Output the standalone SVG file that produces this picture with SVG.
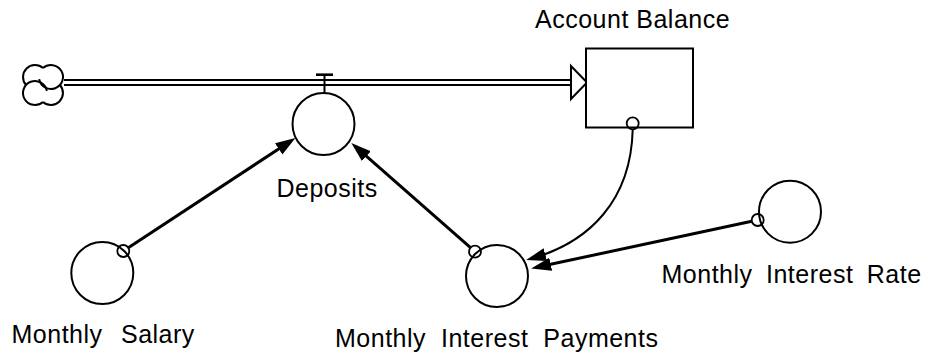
<svg xmlns="http://www.w3.org/2000/svg" width="925" height="354" viewBox="0 0 925 354">
<style>
  .lbl { font-family: "Liberation Sans", Arial, sans-serif; font-size: 25px; fill: #000; letter-spacing: 0.5px; }
  .aux { fill: #fff; stroke: #000; stroke-width: 2; }
  .dot { fill: none; stroke: #000; stroke-width: 1.8; }
  .link { fill: none; stroke: #000; stroke-width: 3; marker-end: url(#ah); }
  .curve { fill: none; stroke: #000; stroke-width: 2; marker-end: url(#ah); }
  .pipe { stroke: #000; stroke-width: 1.8; }
  .lobe { fill: none; stroke: #000; stroke-width: 2; }
</style>
<defs>
  <marker id="ah" markerUnits="userSpaceOnUse" markerWidth="20" markerHeight="14" viewBox="0 0 18 12" refX="13" refY="6" orient="auto">
    <path d="M0,0 L18,6 L0,12 z" fill="#000"/>
  </marker>
</defs>
<rect width="925" height="354" fill="#fff"/>

<g id="cloud">
  <path class="lobe" d="M43,68.06 A12,12 0 1 1 39.18,79.08"/>
  <path class="lobe" d="M59.94,85 A12,12 0 0 1 43,101.94"/>
  <path class="lobe" d="M43,101.94 A12,12 0 1 1 46.82,90.92"/>
  <path class="lobe" d="M26.06,85 A12,12 0 0 1 43,68.06"/>
</g>

<g id="flow-deposits">
  <line class="pipe" x1="64" y1="80" x2="572" y2="80"/>
  <line class="pipe" x1="64" y1="85" x2="572" y2="85"/>
  <path d="M571,66 L587,82.5 L571,99 Z" fill="#fff" stroke="#000" stroke-width="2" stroke-linejoin="miter"/>
  <line x1="316" y1="74.7" x2="333" y2="74.7" stroke="#000" stroke-width="2.6"/>
  <line x1="324.5" y1="74.7" x2="324.5" y2="93" stroke="#000" stroke-width="2"/>
</g>

<g id="account-balance">
  <rect x="586" y="48.5" width="107" height="79" fill="#fff" stroke="#000" stroke-width="2"/>
  <text class="lbl" x="535" y="28.3">Account Balance</text>
</g>

<g id="deposits">
  <circle class="aux" cx="323.5" cy="124" r="31"/>
  <text class="lbl" x="276.5" y="197.3">Deposits</text>
</g>

<g id="monthly-salary">
  <circle class="aux" cx="102.3" cy="273" r="31"/>
  <text class="lbl" x="11.5" y="343.3" word-spacing="11">Monthly Salary</text>
</g>

<g id="monthly-interest-payments">
  <circle class="aux" cx="497" cy="276" r="31"/>
  <text class="lbl" x="335" y="346.7" word-spacing="7.5">Monthly Interest Payments</text>
</g>

<g id="monthly-interest-rate">
  <circle class="aux" cx="790" cy="211.7" r="31"/>
  <text class="lbl" x="661.5" y="283.3" word-spacing="6">Monthly Interest Rate</text>
</g>

<g id="connectors">
  <path class="link" d="M128.3,247.7 L290.8,141"/>
  <path class="link" d="M470.5,247.7 L355.5,146.6"/>
  <path class="link" d="M751.8,221.3 L536.6,267.3"/>
  <path class="curve" d="M632.7,129.5 C631,200 590,242 531.5,258.6"/>
  <circle class="dot" cx="123.3" cy="251" r="6"/>
  <circle class="dot" cx="475" cy="251.7" r="6"/>
  <circle class="dot" cx="757.7" cy="220" r="6"/>
  <circle class="dot" cx="632.7" cy="123.3" r="6"/>
</g>
</svg>
